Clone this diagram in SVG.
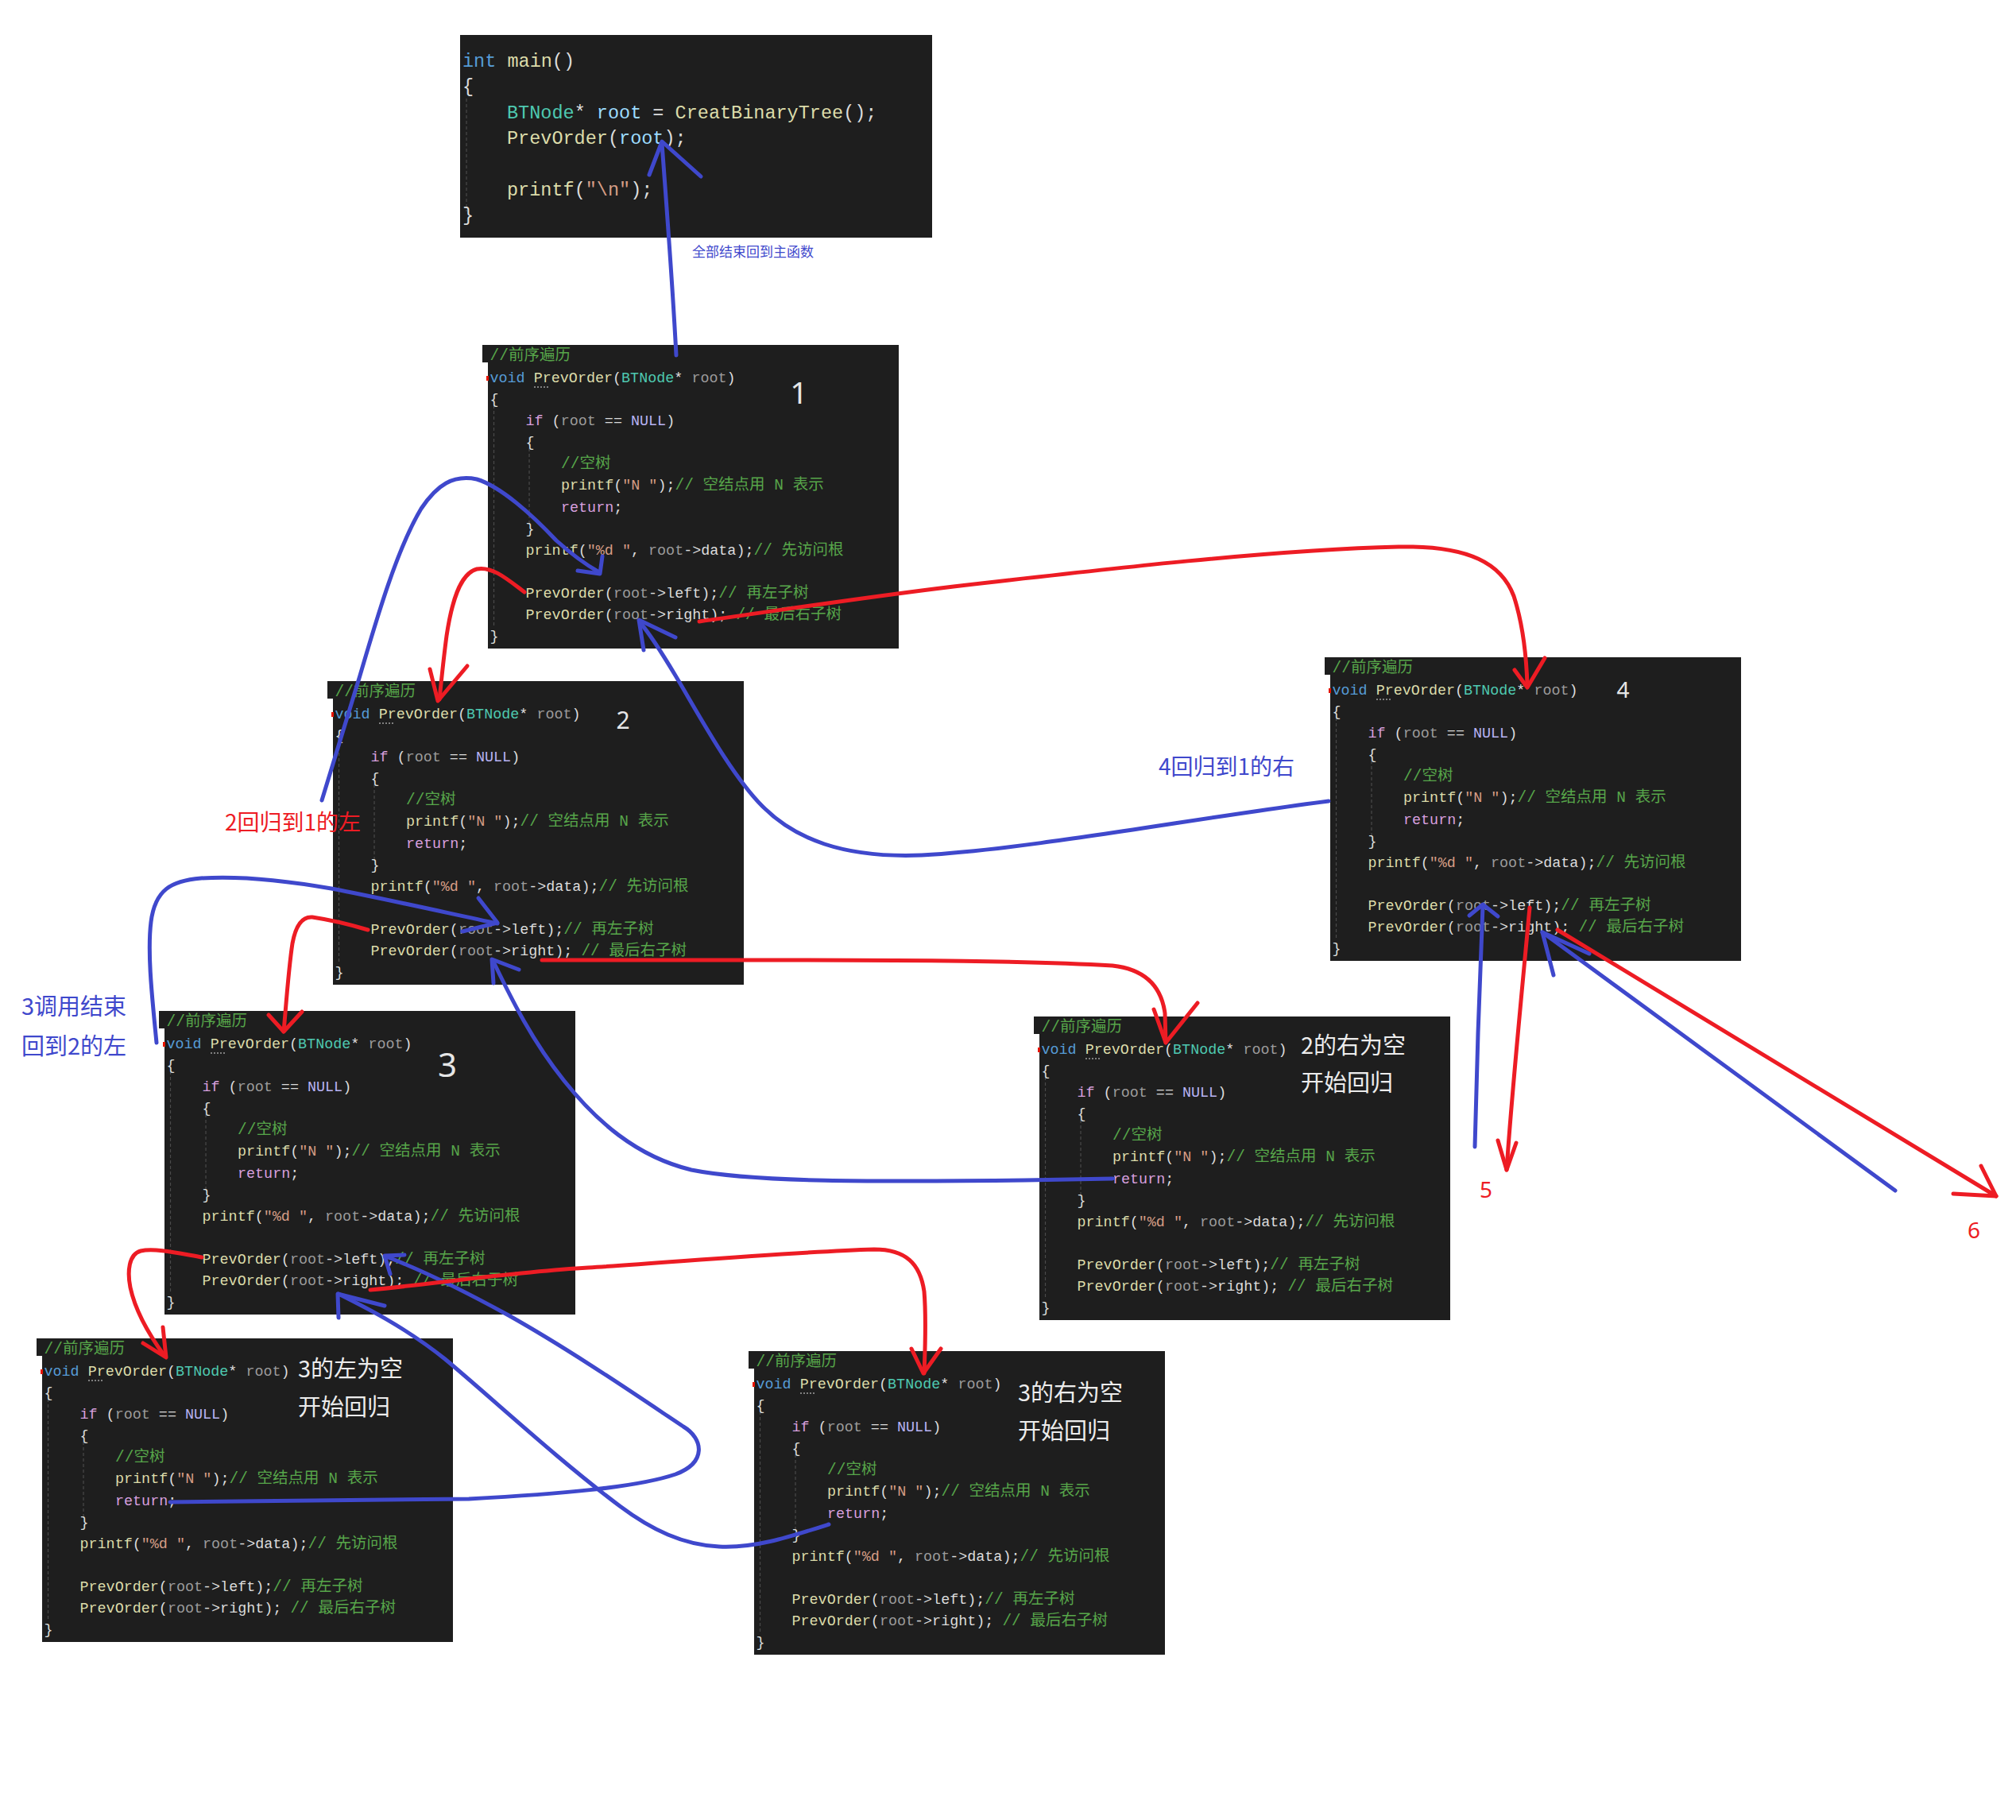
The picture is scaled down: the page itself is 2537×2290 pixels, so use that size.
<svg xmlns="http://www.w3.org/2000/svg" width="2537" height="2290" viewBox="0 0 2537 2290">
<style>
.bg{fill:#ffffff}
.hd,.bd{fill:#1e1e1e}
.cd{font-family:"Liberation Mono","Noto Sans CJK SC",monospace;font-size:18.4px;fill:#dcdcdc}
.cm{font-family:"Liberation Mono","Noto Sans CJK SC",monospace;font-size:23.5px;fill:#dcdcdc}
.k{fill:#569cd6}.f{fill:#dcdcaa}.t{fill:#4ec9b0}.p{fill:#9b9b9b}.v{fill:#9cdcfe}.s{fill:#d69d85}.m{fill:#b8b3f5}.r{fill:#d8a0df}
.c{fill:#57a64a;font-size:19.5px}
.guide{stroke:#4a4a4a;stroke-width:1.2;stroke-dasharray:4 3;fill:none}
.dot{stroke:#a0a0a0;stroke-width:1.5;stroke-dasharray:2 2;fill:none}
.bp{fill:#e51400}
.num{font-family:"Noto Sans","Open Sans",sans-serif;fill:#e6e6e6}
.lab{font-family:"Noto Sans CJK SC",sans-serif;fill:#ececec;font-size:29px}
.ann{font-family:"Noto Sans CJK SC",sans-serif}
.ab{fill:#3f48cc}.ar{fill:#ed1c24}
.bl{fill:none;stroke:#3f48cc;stroke-width:5;stroke-linecap:round;stroke-linejoin:round}
.rd{fill:none;stroke:#ed1c24;stroke-width:5;stroke-linecap:round;stroke-linejoin:round}
</style>
<rect class="bg" x="0" y="0" width="2537" height="2290"/>

<g id="main" transform="translate(579,44)">
<rect class="bd" x="0" y="0" width="594" height="255"/>
<path class="guide" d="M8,80V222"/>
<text class="cm" x="3" y="40"><tspan class="k">int</tspan> <tspan class="f">main</tspan>()</text>
<text class="cm" x="3" y="72">{</text>
<text class="cm" x="59" y="104.5"><tspan class="t">BTNode</tspan>* <tspan class="v">root</tspan> = <tspan class="f">CreatBinaryTree</tspan>();</text>
<text class="cm" x="59" y="137"><tspan class="f">PrevOrder</tspan>(<tspan class="v">root</tspan>);</text>
<text class="cm" x="59" y="201.5"><tspan class="f">printf</tspan>(<tspan class="s">"\n"</tspan>);</text>
<text class="cm" x="3" y="234">}</text>
</g>

<g id="node1" transform="translate(607,434)">
<rect class="hd" x="0" y="0" width="524" height="22"/>
<rect class="bd" x="7" y="0" width="517" height="382"/>
<path class="guide" d="M14.5,62V355M59,116V228"/>
<rect class="bp" x="5" y="39" width="3" height="6"/>
<path class="dot" d="M65,53H85"/>
<text class="cd c" x="9.5" y="19">//前序遍历</text>
<text class="cd" x="9.5" y="47"><tspan class="k">void</tspan> <tspan class="f">PrevOrder</tspan>(<tspan class="t">BTNode</tspan>* <tspan class="p">root</tspan>)</text>
<text class="cd" x="9.5" y="74">{</text>
<text class="cd" x="54.5" y="101"><tspan class="r">if</tspan> (<tspan class="p">root</tspan> == <tspan class="m">NULL</tspan>)</text>
<text class="cd" x="54.5" y="128">{</text>
<text class="cd c" x="99" y="155">//空树</text>
<text class="cd" x="99" y="182"><tspan class="f">printf</tspan>(<tspan class="s">"N "</tspan>);<tspan class="c">// 空结点用 N 表示</tspan></text>
<text class="cd" x="99" y="209.5"><tspan class="r">return</tspan>;</text>
<text class="cd" x="54.5" y="236.5">}</text>
<text class="cd" x="54.5" y="263.5"><tspan class="f">printf</tspan>(<tspan class="s">"%d "</tspan>, <tspan class="p">root</tspan>-&gt;data);<tspan class="c">// 先访问根</tspan></text>
<text class="cd" x="54.5" y="318"><tspan class="f">PrevOrder</tspan>(<tspan class="p">root</tspan>-&gt;left);<tspan class="c">// 再左子树</tspan></text>
<text class="cd" x="54.5" y="345"><tspan class="f">PrevOrder</tspan>(<tspan class="p">root</tspan>-&gt;right); <tspan class="c">// 最后右子树</tspan></text>
<text class="cd" x="9.5" y="372">}</text>
<text class="num" x="398.5" y="74" font-size="39" text-anchor="middle">1</text>
</g>

<g id="node2" transform="translate(412,857)">
<rect class="hd" x="0" y="0" width="524" height="22"/>
<rect class="bd" x="7" y="0" width="517" height="382"/>
<path class="guide" d="M14.5,62V355M59,116V228"/>
<rect class="bp" x="5" y="39" width="3" height="6"/>
<path class="dot" d="M65,53H85"/>
<text class="cd c" x="9.5" y="19">//前序遍历</text>
<text class="cd" x="9.5" y="47"><tspan class="k">void</tspan> <tspan class="f">PrevOrder</tspan>(<tspan class="t">BTNode</tspan>* <tspan class="p">root</tspan>)</text>
<text class="cd" x="9.5" y="74">{</text>
<text class="cd" x="54.5" y="101"><tspan class="r">if</tspan> (<tspan class="p">root</tspan> == <tspan class="m">NULL</tspan>)</text>
<text class="cd" x="54.5" y="128">{</text>
<text class="cd c" x="99" y="155">//空树</text>
<text class="cd" x="99" y="182"><tspan class="f">printf</tspan>(<tspan class="s">"N "</tspan>);<tspan class="c">// 空结点用 N 表示</tspan></text>
<text class="cd" x="99" y="209.5"><tspan class="r">return</tspan>;</text>
<text class="cd" x="54.5" y="236.5">}</text>
<text class="cd" x="54.5" y="263.5"><tspan class="f">printf</tspan>(<tspan class="s">"%d "</tspan>, <tspan class="p">root</tspan>-&gt;data);<tspan class="c">// 先访问根</tspan></text>
<text class="cd" x="54.5" y="318"><tspan class="f">PrevOrder</tspan>(<tspan class="p">root</tspan>-&gt;left);<tspan class="c">// 再左子树</tspan></text>
<text class="cd" x="54.5" y="345"><tspan class="f">PrevOrder</tspan>(<tspan class="p">root</tspan>-&gt;right); <tspan class="c">// 最后右子树</tspan></text>
<text class="cd" x="9.5" y="372">}</text>
<text class="num" x="372" y="60" font-size="30" text-anchor="middle">2</text>
</g>

<g id="node3" transform="translate(200,1272)">
<rect class="hd" x="0" y="0" width="524" height="22"/>
<rect class="bd" x="7" y="0" width="517" height="382"/>
<path class="guide" d="M14.5,62V355M59,116V228"/>
<rect class="bp" x="5" y="39" width="3" height="6"/>
<path class="dot" d="M65,53H85"/>
<text class="cd c" x="9.5" y="19">//前序遍历</text>
<text class="cd" x="9.5" y="47"><tspan class="k">void</tspan> <tspan class="f">PrevOrder</tspan>(<tspan class="t">BTNode</tspan>* <tspan class="p">root</tspan>)</text>
<text class="cd" x="9.5" y="74">{</text>
<text class="cd" x="54.5" y="101"><tspan class="r">if</tspan> (<tspan class="p">root</tspan> == <tspan class="m">NULL</tspan>)</text>
<text class="cd" x="54.5" y="128">{</text>
<text class="cd c" x="99" y="155">//空树</text>
<text class="cd" x="99" y="182"><tspan class="f">printf</tspan>(<tspan class="s">"N "</tspan>);<tspan class="c">// 空结点用 N 表示</tspan></text>
<text class="cd" x="99" y="209.5"><tspan class="r">return</tspan>;</text>
<text class="cd" x="54.5" y="236.5">}</text>
<text class="cd" x="54.5" y="263.5"><tspan class="f">printf</tspan>(<tspan class="s">"%d "</tspan>, <tspan class="p">root</tspan>-&gt;data);<tspan class="c">// 先访问根</tspan></text>
<text class="cd" x="54.5" y="318"><tspan class="f">PrevOrder</tspan>(<tspan class="p">root</tspan>-&gt;left);<tspan class="c">// 再左子树</tspan></text>
<text class="cd" x="54.5" y="345"><tspan class="f">PrevOrder</tspan>(<tspan class="p">root</tspan>-&gt;right); <tspan class="c">// 最后右子树</tspan></text>
<text class="cd" x="9.5" y="372">}</text>
<text class="num" x="363" y="83" font-size="42" text-anchor="middle">3</text>
</g>

<g id="node3L" transform="translate(46,1684)">
<rect class="hd" x="0" y="0" width="524" height="22"/>
<rect class="bd" x="7" y="0" width="517" height="382"/>
<path class="guide" d="M14.5,62V355M59,116V228"/>
<rect class="bp" x="5" y="39" width="3" height="6"/>
<path class="dot" d="M65,53H85"/>
<text class="cd c" x="9.5" y="19">//前序遍历</text>
<text class="cd" x="9.5" y="47"><tspan class="k">void</tspan> <tspan class="f">PrevOrder</tspan>(<tspan class="t">BTNode</tspan>* <tspan class="p">root</tspan>)</text>
<text class="cd" x="9.5" y="74">{</text>
<text class="cd" x="54.5" y="101"><tspan class="r">if</tspan> (<tspan class="p">root</tspan> == <tspan class="m">NULL</tspan>)</text>
<text class="cd" x="54.5" y="128">{</text>
<text class="cd c" x="99" y="155">//空树</text>
<text class="cd" x="99" y="182"><tspan class="f">printf</tspan>(<tspan class="s">"N "</tspan>);<tspan class="c">// 空结点用 N 表示</tspan></text>
<text class="cd" x="99" y="209.5"><tspan class="r">return</tspan>;</text>
<text class="cd" x="54.5" y="236.5">}</text>
<text class="cd" x="54.5" y="263.5"><tspan class="f">printf</tspan>(<tspan class="s">"%d "</tspan>, <tspan class="p">root</tspan>-&gt;data);<tspan class="c">// 先访问根</tspan></text>
<text class="cd" x="54.5" y="318"><tspan class="f">PrevOrder</tspan>(<tspan class="p">root</tspan>-&gt;left);<tspan class="c">// 再左子树</tspan></text>
<text class="cd" x="54.5" y="345"><tspan class="f">PrevOrder</tspan>(<tspan class="p">root</tspan>-&gt;right); <tspan class="c">// 最后右子树</tspan></text>
<text class="cd" x="9.5" y="372">}</text>
<text class="lab" x="329" y="49">3的左为空</text>
<text class="lab" x="329" y="97">开始回归</text>
</g>

<g id="node3R" transform="translate(942,1700)">
<rect class="hd" x="0" y="0" width="524" height="22"/>
<rect class="bd" x="7" y="0" width="517" height="382"/>
<path class="guide" d="M14.5,62V355M59,116V228"/>
<rect class="bp" x="5" y="39" width="3" height="6"/>
<path class="dot" d="M65,53H85"/>
<text class="cd c" x="9.5" y="19">//前序遍历</text>
<text class="cd" x="9.5" y="47"><tspan class="k">void</tspan> <tspan class="f">PrevOrder</tspan>(<tspan class="t">BTNode</tspan>* <tspan class="p">root</tspan>)</text>
<text class="cd" x="9.5" y="74">{</text>
<text class="cd" x="54.5" y="101"><tspan class="r">if</tspan> (<tspan class="p">root</tspan> == <tspan class="m">NULL</tspan>)</text>
<text class="cd" x="54.5" y="128">{</text>
<text class="cd c" x="99" y="155">//空树</text>
<text class="cd" x="99" y="182"><tspan class="f">printf</tspan>(<tspan class="s">"N "</tspan>);<tspan class="c">// 空结点用 N 表示</tspan></text>
<text class="cd" x="99" y="209.5"><tspan class="r">return</tspan>;</text>
<text class="cd" x="54.5" y="236.5">}</text>
<text class="cd" x="54.5" y="263.5"><tspan class="f">printf</tspan>(<tspan class="s">"%d "</tspan>, <tspan class="p">root</tspan>-&gt;data);<tspan class="c">// 先访问根</tspan></text>
<text class="cd" x="54.5" y="318"><tspan class="f">PrevOrder</tspan>(<tspan class="p">root</tspan>-&gt;left);<tspan class="c">// 再左子树</tspan></text>
<text class="cd" x="54.5" y="345"><tspan class="f">PrevOrder</tspan>(<tspan class="p">root</tspan>-&gt;right); <tspan class="c">// 最后右子树</tspan></text>
<text class="cd" x="9.5" y="372">}</text>
<text class="lab" x="339" y="63">3的右为空</text>
<text class="lab" x="339" y="111">开始回归</text>
</g>

<g id="node2R" transform="translate(1301,1279)">
<rect class="hd" x="0" y="0" width="524" height="22"/>
<rect class="bd" x="7" y="0" width="517" height="382"/>
<path class="guide" d="M14.5,62V355M59,116V228"/>
<rect class="bp" x="5" y="39" width="3" height="6"/>
<path class="dot" d="M65,53H85"/>
<text class="cd c" x="9.5" y="19">//前序遍历</text>
<text class="cd" x="9.5" y="47"><tspan class="k">void</tspan> <tspan class="f">PrevOrder</tspan>(<tspan class="t">BTNode</tspan>* <tspan class="p">root</tspan>)</text>
<text class="cd" x="9.5" y="74">{</text>
<text class="cd" x="54.5" y="101"><tspan class="r">if</tspan> (<tspan class="p">root</tspan> == <tspan class="m">NULL</tspan>)</text>
<text class="cd" x="54.5" y="128">{</text>
<text class="cd c" x="99" y="155">//空树</text>
<text class="cd" x="99" y="182"><tspan class="f">printf</tspan>(<tspan class="s">"N "</tspan>);<tspan class="c">// 空结点用 N 表示</tspan></text>
<text class="cd" x="99" y="209.5"><tspan class="r">return</tspan>;</text>
<text class="cd" x="54.5" y="236.5">}</text>
<text class="cd" x="54.5" y="263.5"><tspan class="f">printf</tspan>(<tspan class="s">"%d "</tspan>, <tspan class="p">root</tspan>-&gt;data);<tspan class="c">// 先访问根</tspan></text>
<text class="cd" x="54.5" y="318"><tspan class="f">PrevOrder</tspan>(<tspan class="p">root</tspan>-&gt;left);<tspan class="c">// 再左子树</tspan></text>
<text class="cd" x="54.5" y="345"><tspan class="f">PrevOrder</tspan>(<tspan class="p">root</tspan>-&gt;right); <tspan class="c">// 最后右子树</tspan></text>
<text class="cd" x="9.5" y="372">}</text>
<text class="lab" x="336" y="47">2的右为空</text>
<text class="lab" x="336" y="94">开始回归</text>
</g>

<g id="node4" transform="translate(1667,827)">
<rect class="hd" x="0" y="0" width="524" height="22"/>
<rect class="bd" x="7" y="0" width="517" height="382"/>
<path class="guide" d="M14.5,62V355M59,116V228"/>
<rect class="bp" x="5" y="39" width="3" height="6"/>
<path class="dot" d="M65,53H85"/>
<text class="cd c" x="9.5" y="19">//前序遍历</text>
<text class="cd" x="9.5" y="47"><tspan class="k">void</tspan> <tspan class="f">PrevOrder</tspan>(<tspan class="t">BTNode</tspan>* <tspan class="p">root</tspan>)</text>
<text class="cd" x="9.5" y="74">{</text>
<text class="cd" x="54.5" y="101"><tspan class="r">if</tspan> (<tspan class="p">root</tspan> == <tspan class="m">NULL</tspan>)</text>
<text class="cd" x="54.5" y="128">{</text>
<text class="cd c" x="99" y="155">//空树</text>
<text class="cd" x="99" y="182"><tspan class="f">printf</tspan>(<tspan class="s">"N "</tspan>);<tspan class="c">// 空结点用 N 表示</tspan></text>
<text class="cd" x="99" y="209.5"><tspan class="r">return</tspan>;</text>
<text class="cd" x="54.5" y="236.5">}</text>
<text class="cd" x="54.5" y="263.5"><tspan class="f">printf</tspan>(<tspan class="s">"%d "</tspan>, <tspan class="p">root</tspan>-&gt;data);<tspan class="c">// 先访问根</tspan></text>
<text class="cd" x="54.5" y="318"><tspan class="f">PrevOrder</tspan>(<tspan class="p">root</tspan>-&gt;left);<tspan class="c">// 再左子树</tspan></text>
<text class="cd" x="54.5" y="345"><tspan class="f">PrevOrder</tspan>(<tspan class="p">root</tspan>-&gt;right); <tspan class="c">// 最后右子树</tspan></text>
<text class="cd" x="9.5" y="372">}</text>
<text class="num" x="375.5" y="51" font-size="28" text-anchor="middle">4</text>
</g>

<g id="labels">
<text class="ann ab" x="871" y="323" font-size="17">全部结束回到主函数</text>
<text class="ann ar" x="283" y="1045" font-size="28">2回归到1的左</text>
<text class="ann ab" x="27" y="1277" font-size="29">3调用结束</text>
<text class="ann ab" x="27" y="1327" font-size="29">回到2的左</text>
<text class="ann ab" x="1458" y="975" font-size="28">4回归到1的右</text>
<text class="num ar" x="1870" y="1507" font-size="28" text-anchor="middle">5</text>
<text class="num ar" x="2484" y="1558" font-size="28" text-anchor="middle">6</text>
</g>

<g id="connectors">
<path class="bl" d="M851,447C846,350 838,250 833,180"/>
<path class="bl" d="M817,220L833,178L882,222"/>
<path class="bl" d="M405,1007L453,850C475,775 500,690 530,640C550,610 570,597 600,603C630,612 670,648 700,680C720,698 740,712 754,720"/>
<path class="bl" d="M727,718L755,722L758,700"/>
<path class="bl" d="M197,1312C192,1260 185,1200 190,1160C195,1120 215,1108 253,1105C300,1102 360,1108 417,1118C480,1130 560,1148 626,1162"/>
<path class="bl" d="M602,1130L626,1161L582,1172"/>
<path class="bl" d="M1672,1008C1500,1030 1300,1068 1160,1076C1060,1080 1000,1055 960,1015C920,975 880,900 850,850C835,825 820,800 806,784"/>
<path class="bl" d="M850,802L804,780L810,818"/>
<path class="bl" d="M1400,1483L1290,1485C1100,1487 950,1488 870,1472C800,1455 750,1410 710,1360C670,1310 645,1260 620,1208"/>
<path class="bl" d="M653,1220L619,1207L621,1237"/>
<path class="bl" d="M214,1890L590,1886C700,1880 800,1872 850,1855C890,1840 885,1810 860,1795C800,1755 720,1700 640,1655C580,1622 530,1598 486,1581"/>
<path class="bl" d="M509,1579L484,1580L491,1603"/>
<path class="bl" d="M1043,1918C990,1935 950,1948 905,1946C860,1944 820,1925 780,1895C700,1835 620,1760 560,1710C510,1670 460,1645 426,1628"/>
<path class="bl" d="M484,1643L425,1628L426,1658"/>
<path class="bl" d="M1856,1443L1860,1300L1866,1140"/>
<path class="bl" d="M1849,1152L1866,1138L1885,1153"/>
<path class="bl" d="M2385,1498L1941,1173"/>
<path class="bl" d="M2000,1200L1941,1173L1955,1227"/>
<path class="rd" d="M660,745C640,730 620,712 600,716C578,722 568,760 562,800C558,830 555,860 553,880"/>
<path class="rd" d="M541,842L551,882L588,838"/>
<path class="rd" d="M880,782C1000,765 1100,750 1200,738C1400,715 1600,692 1760,688C1850,686 1890,710 1905,750C1918,790 1921,830 1922,862"/>
<path class="rd" d="M1906,843L1922,865L1944,828"/>
<path class="rd" d="M463,1170C440,1163 413,1157 393,1154C380,1153 372,1165 368,1187C363,1220 360,1265 357,1298"/>
<path class="rd" d="M338,1277L357,1298L380,1273"/>
<path class="rd" d="M682,1208L950,1208C1150,1208 1300,1209 1400,1215C1445,1220 1462,1245 1466,1275L1467,1312"/>
<path class="rd" d="M1452,1270L1467,1312L1507,1262"/>
<path class="rd" d="M254,1582C225,1577 195,1570 177,1574C162,1578 160,1600 164,1620C170,1648 188,1680 207,1706"/>
<path class="rd" d="M180,1690L209,1708L205,1670"/>
<path class="rd" d="M466,1623C550,1615 650,1600 740,1595C850,1588 1000,1575 1100,1572C1140,1572 1158,1590 1163,1625C1166,1660 1164,1700 1163,1728"/>
<path class="rd" d="M1147,1697L1162,1728L1184,1697"/>
<path class="rd" d="M1925,1142C1915,1250 1902,1380 1896,1472"/>
<path class="rd" d="M1885,1435L1896,1472L1908,1438"/>
<path class="rd" d="M1960,1170L2512,1505"/>
<path class="rd" d="M2493,1467L2512,1505L2458,1502"/>
</g>
</svg>
